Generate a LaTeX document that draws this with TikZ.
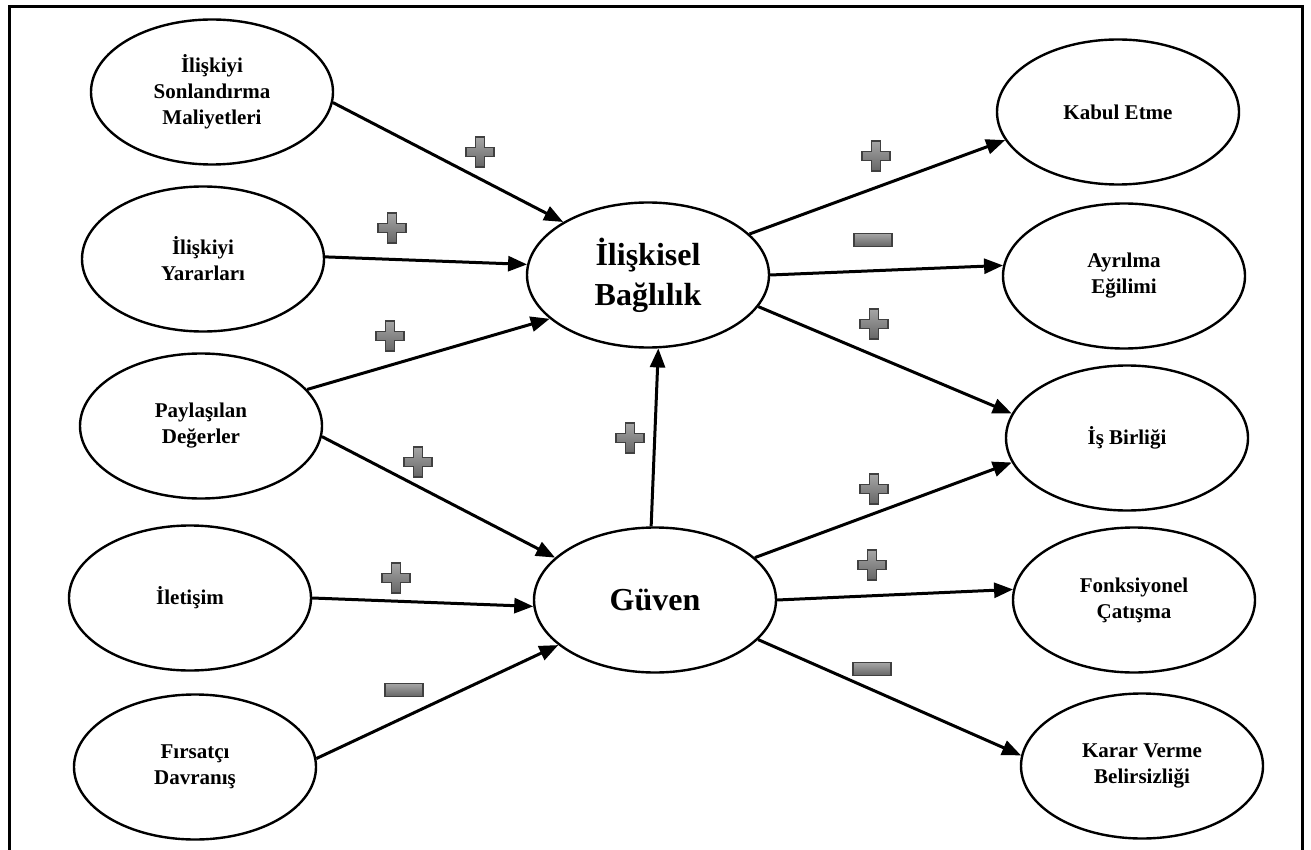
\documentclass[tikz,border=0pt]{standalone}
\usepackage{fontspec}
\setmainfont{Liberation Serif}
\usetikzlibrary{shapes.geometric,arrows.meta}
\tikzset{
  oval/.style={ellipse, draw=black, line width=2.4pt, minimum width=242pt, minimum height=145pt, inner sep=0pt, align=center, font=\fontsize{21}{26}\selectfont\bfseries},
  bigoval/.style={oval, font=\fontsize{32}{40}\selectfont\bfseries},
  conn/.style={line width=3pt, -{Triangle[length=19pt,width=15pt]}},
  signstyle/.style={draw=black!75, line width=1.3pt, top color=black!35, bottom color=black!60},
  plussign/.pic={\path[signstyle] (-4.5,-15) -- (4.5,-15) -- (4.5,-4.5) -- (14,-4.5) -- (14,4.5) -- (4.5,4.5) -- (4.5,15) -- (-4.5,15) -- (-4.5,4.5) -- (-14,4.5) -- (-14,-4.5) -- (-4.5,-4.5) -- cycle;},
  minussign/.pic={\path[signstyle] (-19,-6.5) rectangle (19,6.5);}
}
\begin{document}
\begin{tikzpicture}[x=1pt,y=-1pt]
\useasboundingbox (0,0) rectangle (1311,850);
\draw[line width=3pt] (9,880) -- (9,7) -- (1302,7) -- (1302,880);

\node[oval] (e1) at (212,92) {İlişkiyi\\Sonlandırma\\Maliyetleri};
\node[oval] (e2) at (203,259) {İlişkiyi\\Yararları};
\node[oval] (e3) at (201,426) {Paylaşılan\\Değerler};
\node[oval] (e4) at (190,598) {İletişim};
\node[oval] (e5) at (195,767) {Fırsatçı\\Davranış};
\node[bigoval] (bag) at (648,275) {İlişkisel\\Bağlılık};
\node[bigoval] (guv) at (655,600) {Güven};
\node[oval] (kab) at (1118,112) {Kabul Etme};
\node[oval] (ayr) at (1124,276) {Ayrılma\\Eğilimi};
\node[oval] (isb) at (1127,438) {İş Birliği};
\node[oval] (fon) at (1134,600) {Fonksiyonel\\Çatışma};
\node[oval] (kar) at (1142,766) {Karar Verme\\Belirsizliği};

\draw[conn] (e1.-5.3) -- (bag.148);
\draw[conn] (e2.1.4) -- (bag.175.9);
\draw[conn] (e3.19.2) -- (bag.-156.7);
\draw[conn] (e3.-5.9) -- (guv.157.7);
\draw[conn] (e4.0.9) -- (guv.-177.7);
\draw[conn] (e5.4.8) -- (guv.-155.8);
\draw[conn] (guv.93.2) -- (bag.-82.9);
\draw[conn] (bag.22.9) -- (kab.-166.1);
\draw[conn] (bag.0.5) -- (ayr.175.3);
\draw[conn] (bag.-16.1) -- (isb.168.6);
\draw[conn] (guv.23.7) -- (isb.-168.3);
\draw[conn] (guv.-0.5) -- (fon.175.8);
\draw[conn] (guv.-21.9) -- (kar.175.7);

\pic at (480,152) {plussign};
\pic at (392,228) {plussign};
\pic at (390,336) {plussign};
\pic at (418,462) {plussign};
\pic at (396,578) {plussign};
\pic at (404,690) {minussign};
\pic at (630,438) {plussign};
\pic at (876,156) {plussign};
\pic at (873,240) {minussign};
\pic at (874,324) {plussign};
\pic at (874,489) {plussign};
\pic at (872,565) {plussign};
\pic at (872,669) {minussign};
\end{tikzpicture}
\end{document}
